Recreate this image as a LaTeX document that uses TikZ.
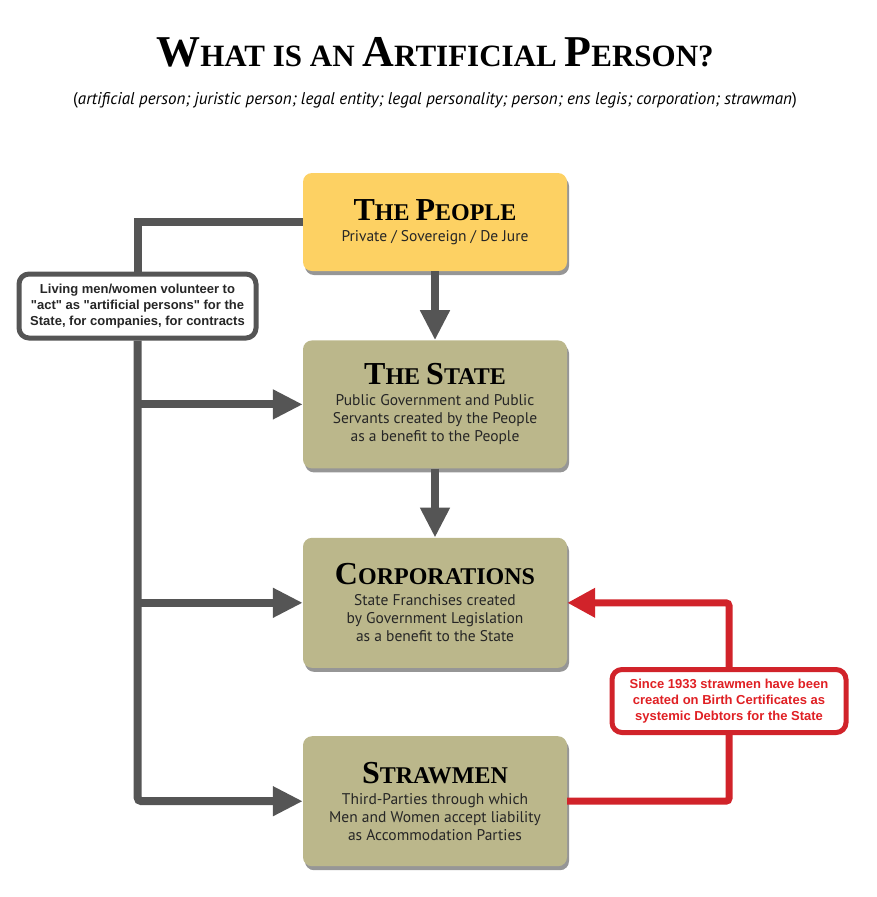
\documentclass[tikz,border=0pt]{standalone}
\usepackage{fontspec}
\setmainfont{Liberation Serif}
\setsansfont{PT Sans}
\newfontfamily\notefont{Liberation Sans}
\usepackage{tikz}
\usetikzlibrary{positioning,shadows,arrows.meta}
\definecolor{color-people}{RGB}{253,209,99}
\definecolor{color-state}{RGB}{187,183,139}
\definecolor{color-grey}{RGB}{85,85,85}
\definecolor{color-red}{RGB}{209,35,42}
\definecolor{color-redtext}{RGB}{224,32,36}
% fake small caps for the headings
\newcommand{\capword}[4]{{\fontsize{#3}{#3}\selectfont #1}{\fontsize{#4}{#4}\selectfont #2}}
\newcommand{\boxhead}[1]{{\rmfamily\bfseries\color{black}\fontsize{24}{24}\selectfont #1}}
\tikzset{
box/.style={rounded corners=9pt,
minimum width=264pt,
inner sep=0pt,
align=center,
text=black!85,
font=\sffamily\fontsize{15.5}{18}\selectfont,
drop shadow={shadow xshift=2pt,shadow yshift=-4pt,opacity=0.55,fill=black!75}},
notebox/.style={rounded corners=10pt,
line width=5pt,
fill=white,
inner sep=0pt,
align=center,
font=\notefont\bfseries\fontsize{13}{16}\selectfont},
link/.style={line width=8pt,color=color-grey},
linkhead/.style={link,-{Triangle[length=30pt,width=28pt]}},
redlink/.style={line width=7pt,color=color-red},
redhead/.style={redlink,-{Triangle[length=28pt,width=28pt]}}
}

\begin{document}
\begin{tikzpicture}[x=1pt,y=-1pt]
\useasboundingbox (0,0) rectangle (876,897);
\coordinate (a) at (435,222);%centre of the first box

% title
\node [name=title,anchor=base,font=\bfseries\fontsize{31}{31}\selectfont] at (435,66)
{\capword{W}{HAT IS AN}{44}{31} \capword{A}{RTIFICIAL}{44}{31} \capword{P}{ERSON?}{44}{31}};
\node [name=subtitle,anchor=base,font=\sffamily\fontsize{17}{18}\selectfont] at (435,104)
{(\textit{artificial person; juristic person; legal entity; legal personality; person; ens legis; corporation; strawman})};

% the four boxes
\node [name=people,box,fill=color-people,minimum height=98pt] at (a)
{\boxhead{\capword{T}{HE}{32}{24} \capword{P}{EOPLE}{32}{24}}\\[3pt]
Private / Sovereign / De Jure};
\node [name=state,box,fill=color-state,minimum height=128pt,below=69pt of people]
{\boxhead{\capword{T}{HE}{32}{24} \capword{S}{TATE}{32}{24}}\\[3pt]
Public Government and Public\\
Servants created by the People\\
as a benefit to the People};
\node [name=corp,box,fill=color-state,minimum height=130pt,below=69pt of state]
{\boxhead{\capword{C}{ORPORATIONS}{32}{24}}\\[3pt]
State Franchises created\\
by Government Legislation\\
as a benefit to the State};
\node [name=straw,box,fill=color-state,minimum height=130pt,below=68pt of corp]
{\boxhead{\capword{S}{TRAWMEN}{32}{24}}\\[3pt]
Third-Parties through which\\
Men and Women accept liability\\
as Accommodation Parties};

% notes
\node [name=actnote,notebox,draw=color-grey,text=black!85,minimum width=237pt,minimum height=64pt] at (137.5,306)
{Living men/women volunteer to\\
"act" as "artificial persons" for the\\
State, for companies, for contracts};
\node [name=debtnote,notebox,draw=color-red,text=color-redtext,minimum width=234pt,minimum height=63pt] at (729,701)
{Since 1933 strawmen have been\\
created on Birth Certificates as\\
systemic Debtors for the State};

% grey connectors
\draw [linkhead] (people) -- (state);
\draw [linkhead] (state) -- (corp);
\draw [link] (people.west) -| (actnote.north);
\draw [linkhead,rounded corners=4pt] (actnote.south) |- (straw.west);
\draw [linkhead] (actnote.south |- state.west) -- (state.west);
\draw [linkhead] (actnote.south |- corp.west) -- (corp.west);

% red connector
\draw [redlink,rounded corners=3pt] (straw.east) -| (debtnote.south);
\draw [redhead,rounded corners=3pt] (debtnote.north) |- (corp.east);

\end{tikzpicture}
\end{document}
